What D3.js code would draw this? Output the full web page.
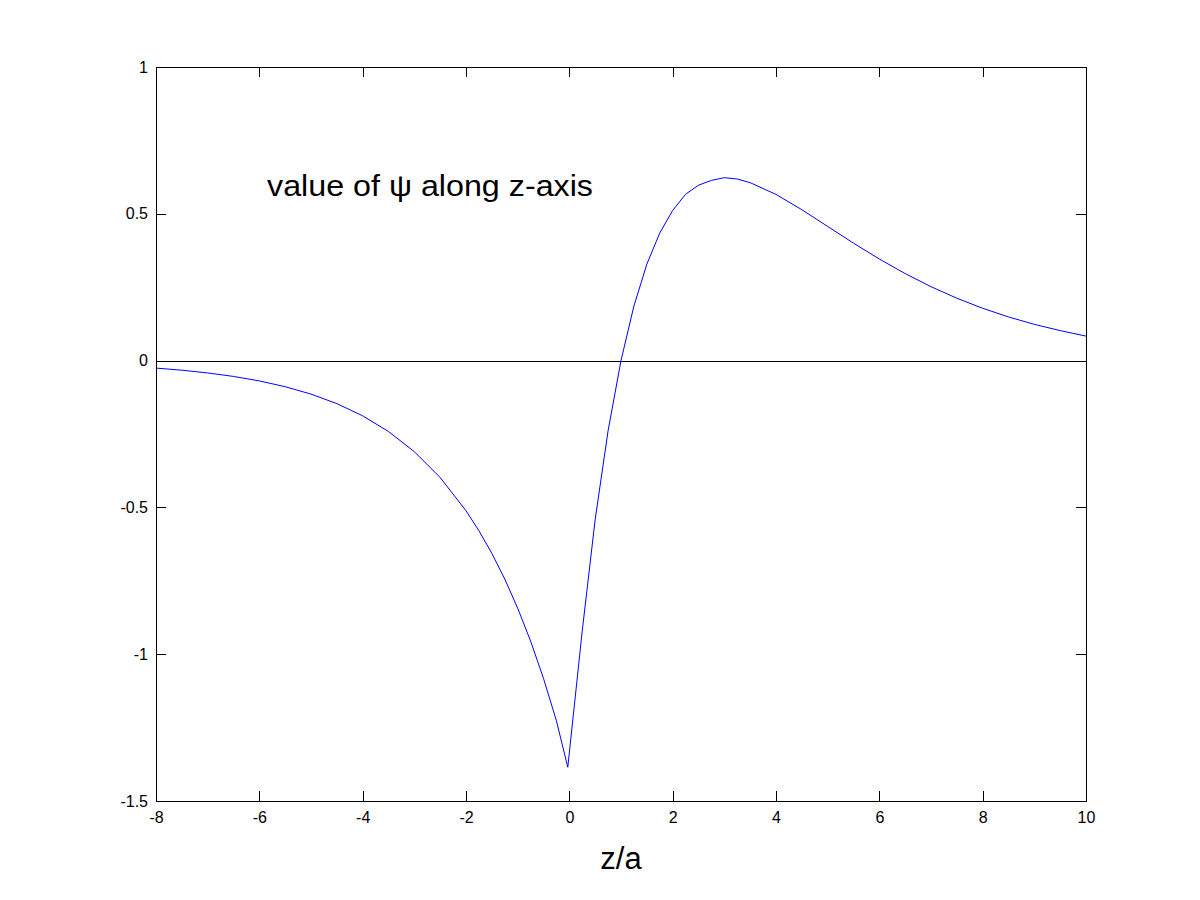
<!DOCTYPE html>
<html><head><meta charset="utf-8">
<script src="https://cdn.jsdelivr.net/npm/d3@7"></script>
<style>body{margin:0;background:#fff}svg{display:block}</style>
</head><body>
<svg id="c" width="1200" height="900"></svg>
<script>
const zValues = [-8,-7.5,-7,-6.5,-6,-5.5,-5,-4.5,-4,-3.5,-3,-2.5,-2,-1.75,-1.5,-1.25,-1,-0.75,-0.5,-0.25,-0.03,
  0.25,0.5,0.75,1,1.25,1.5,1.75,2,2.25,2.5,2.75,3,3.25,3.5,4,4.5,5,5.5,6,6.5,7,7.5,8,8.5,9,9.5,10];
const psiValues = [-0.0255,-0.0327,-0.0420,-0.0539,-0.0692,-0.0889,-0.1141,-0.1465,-0.1881,-0.2415,-0.3102,-0.3982,-0.5114,-0.5794,-0.6566,-0.7440,-0.8431,-0.9553,-1.0825,-1.2267,-1.385,
  -0.9200,-0.5413,-0.2388,0,0.1860,0.3283,0.4346,0.5114,0.5665,0.5974,0.6138,0.6230,0.6185,0.6060,0.5660,0.5140,0.4570,0.4000,0.3460,0.2964,0.2518,0.2125,0.1782,0.1487,0.1235,0.1022,0.0835];
const xTicks = [-8,-6,-4,-2,0,2,4,6,8,10];
const xTickLabels = ["-8","-6","-4","-2","0","2","4","6","8","10"];
const yTicks = [-1.5,-1,-0.5,0,0.5,1];
const yTickLabels = ["-1.5","-1","-0.5","0","0.5","1"];
const titleText = "value of \u03C8 along z-axis";
const xLabel = "z/a";

const L=156,R=1086,T=67,B=801;
const svg=d3.select("#c");
const x=d3.scaleLinear().domain([-8,10]).range([L,R]);
const y=d3.scaleLinear().domain([-1.5,1]).range([B,T]);
const font="'Liberation Sans', Arial, Helvetica, sans-serif";

// zero line
svg.append("line").attr("x1",L).attr("x2",R).attr("y1",Math.round(y(0))+0.5).attr("y2",Math.round(y(0))+0.5)
  .attr("stroke","#000").attr("stroke-width",1);

// curve
const data=zValues.map((z,i)=>[z,psiValues[i]]);
svg.append("path").datum(data).attr("fill","none").attr("stroke","#0000ff").attr("stroke-width",1)
  .attr("d",d3.line().x(d=>x(d[0])).y(d=>y(d[1])));

// axes with inward ticks
const tl=10;
const gB=svg.append("g").attr("transform",`translate(0,${B})`)
  .call(d3.axisBottom(x).tickValues(xTicks).tickSizeInner(-tl).tickSizeOuter(0).tickFormat((d,i)=>xTickLabels[i]));
const gT=svg.append("g").attr("transform",`translate(0,${T})`)
  .call(d3.axisTop(x).tickValues(xTicks).tickSizeInner(-tl).tickSizeOuter(0).tickFormat(""));
const gL=svg.append("g").attr("transform",`translate(${L},0)`)
  .call(d3.axisLeft(y).tickValues(yTicks).tickSizeInner(-tl).tickSizeOuter(0).tickFormat((d,i)=>yTickLabels[i]));
const gR=svg.append("g").attr("transform",`translate(${R},0)`)
  .call(d3.axisRight(y).tickValues(yTicks).tickSizeInner(-tl).tickSizeOuter(0).tickFormat(""));
[gB,gT,gL,gR].forEach(g=>{
  g.selectAll("path.domain").attr("stroke","#000").attr("shape-rendering","crispEdges");
  g.selectAll(".tick line").attr("stroke","#000").attr("shape-rendering","crispEdges");
  g.selectAll("text").attr("fill","#000").style("font-family",font).style("font-size","16px");
});
gB.selectAll("text").attr("dy","0.71em").attr("y",11);
gL.selectAll("text").attr("x",-8);

svg.append("text").attr("x",267).attr("y",196).text(titleText)
  .attr("textLength",326).attr("lengthAdjust","spacingAndGlyphs")
  .style("font-family",font).style("font-size","30px").attr("fill","#000");
svg.append("text").attr("x",621).attr("y",869).attr("text-anchor","middle").text(xLabel)
  .style("font-family",font).style("font-size","31px").attr("fill","#000");
</script>
</body></html>
